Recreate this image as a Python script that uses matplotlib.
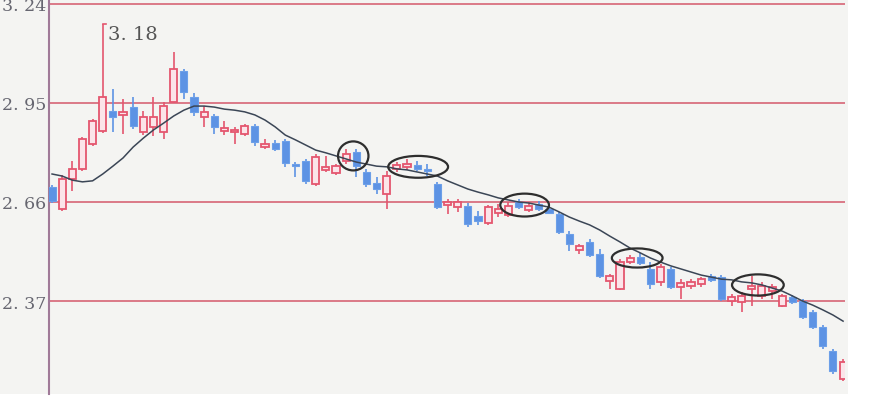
import matplotlib
matplotlib.use("Agg")
import matplotlib.pyplot as plt
from matplotlib.patches import Ellipse, Rectangle

# daily candles (price units)
opens = [2.704, 2.640, 2.727, 2.757, 2.830, 2.868, 2.927, 2.915, 2.938, 2.865,
         2.880, 2.865, 2.953, 3.044, 2.968, 2.909, 2.912, 2.868, 2.865, 2.859,
         2.883, 2.821, 2.833, 2.839, 2.771, 2.780, 2.713, 2.754, 2.745, 2.780,
         2.806, 2.748, 2.716, 2.683, 2.757, 2.763, 2.768, 2.757, 2.713, 2.651,
         2.645, 2.648, 2.619, 2.599, 2.628, 2.622, 2.660, 2.637, 2.654, 2.640,
         2.625, 2.566, 2.519, 2.543, 2.508, 2.429, 2.405, 2.484, 2.499, 2.464,
         2.426, 2.464, 2.411, 2.414, 2.420, 2.443, 2.440, 2.370, 2.367, 2.405,
         2.385, 2.399, 2.355, 2.382, 2.370, 2.338, 2.294, 2.224, 2.142]
highs = [2.710, 2.739, 2.780, 2.850, 2.903, 3.180, 2.991, 2.962, 2.968, 2.927,
         2.968, 2.953, 3.099, 3.050, 2.979, 2.941, 2.918, 2.897, 2.880, 2.888,
         2.888, 2.845, 2.842, 2.845, 2.777, 2.786, 2.801, 2.795, 2.771, 2.815,
         2.815, 2.757, 2.733, 2.751, 2.777, 2.786, 2.780, 2.771, 2.719, 2.669,
         2.669, 2.657, 2.634, 2.651, 2.654, 2.660, 2.669, 2.660, 2.663, 2.654,
         2.631, 2.575, 2.537, 2.552, 2.522, 2.449, 2.493, 2.505, 2.511, 2.484,
         2.478, 2.470, 2.434, 2.434, 2.440, 2.449, 2.446, 2.391, 2.396, 2.443,
         2.426, 2.420, 2.391, 2.388, 2.376, 2.344, 2.300, 2.229, 2.200]
lows = [2.657, 2.634, 2.692, 2.751, 2.824, 2.862, 2.865, 2.859, 2.874, 2.856,
        2.853, 2.845, 2.950, 2.962, 2.912, 2.880, 2.859, 2.856, 2.830, 2.853,
        2.824, 2.815, 2.809, 2.763, 2.733, 2.713, 2.707, 2.748, 2.739, 2.771,
        2.733, 2.704, 2.683, 2.640, 2.748, 2.754, 2.751, 2.736, 2.640, 2.625,
        2.631, 2.587, 2.593, 2.593, 2.616, 2.616, 2.640, 2.631, 2.634, 2.625,
        2.566, 2.516, 2.508, 2.499, 2.437, 2.405, 2.402, 2.478, 2.475, 2.405,
        2.414, 2.405, 2.376, 2.405, 2.411, 2.426, 2.370, 2.355, 2.338, 2.355,
        2.376, 2.376, 2.352, 2.361, 2.317, 2.288, 2.229, 2.156, 2.136]
closes = [2.663, 2.727, 2.757, 2.845, 2.897, 2.968, 2.909, 2.924, 2.883, 2.909,
          2.909, 2.941, 3.050, 2.982, 2.924, 2.924, 2.880, 2.877, 2.871, 2.883,
          2.836, 2.830, 2.815, 2.774, 2.765, 2.722, 2.792, 2.763, 2.765, 2.801,
          2.765, 2.713, 2.698, 2.736, 2.768, 2.771, 2.757, 2.751, 2.645, 2.660,
          2.660, 2.596, 2.604, 2.645, 2.640, 2.648, 2.645, 2.648, 2.640, 2.628,
          2.572, 2.537, 2.531, 2.505, 2.443, 2.443, 2.484, 2.496, 2.481, 2.420,
          2.470, 2.411, 2.423, 2.426, 2.434, 2.432, 2.376, 2.382, 2.385, 2.414,
          2.414, 2.411, 2.385, 2.367, 2.323, 2.294, 2.238, 2.165, 2.191]

# moving average line as drawn on the scan
ma = [2.742, 2.736, 2.724, 2.719, 2.722, 2.742, 2.765, 2.789, 2.821, 2.847,
      2.871, 2.891, 2.912, 2.929, 2.941, 2.941, 2.938, 2.932, 2.929, 2.924,
      2.915, 2.900, 2.880, 2.856, 2.842, 2.827, 2.812, 2.804, 2.795, 2.786,
      2.777, 2.771, 2.765, 2.763, 2.757, 2.754, 2.748, 2.742, 2.736, 2.722,
      2.710, 2.698, 2.689, 2.681, 2.672, 2.666, 2.660, 2.657, 2.651, 2.645,
      2.631, 2.616, 2.604, 2.593, 2.578, 2.560, 2.543, 2.525, 2.511, 2.496,
      2.484, 2.473, 2.464, 2.455, 2.446, 2.440, 2.434, 2.432, 2.426, 2.423,
      2.417, 2.408, 2.399, 2.385, 2.370, 2.358, 2.344, 2.329, 2.311]

price_ticks = [2.37, 2.66, 2.95, 3.24]
price_labels = ["2. 37", "2. 66", "2. 95", "3. 24"]

# hand-drawn circles: (candle index, price, width in candles, height in price)
circles = [(29.7, 2.795, 3.0, 0.085),
           (36.1, 2.763, 5.9, 0.064),
           (46.6, 2.651, 4.8, 0.067),
           (57.7, 2.496, 5.0, 0.056),
           (69.6, 2.417, 5.1, 0.062)]

peak_label = "3. 18"

paper = "#f4f4f2"
red = "#e4566f"
pink = "#fbe4e9"
blue = "#5d93e4"
grid_red = "#d9707f"

fig = plt.figure(figsize=(8.7, 4.06), dpi=100, facecolor=paper)
ax = fig.add_axes([49 / 870, 11 / 406, 796 / 870, 395 / 406])
ax.set_facecolor(paper)

# white border strips of the scan
fig.patches.append(Rectangle((848 / 870, 0), 1, 1, transform=fig.transFigure,
                             facecolor="white", edgecolor="none", zorder=-1))
fig.patches.append(Rectangle((0, 0), 1, 11 / 406, transform=fig.transFigure,
                             facecolor="white", edgecolor="none", zorder=-1))

for t in price_ticks:
    ax.axhline(t, color=grid_red, lw=1.3, zorder=1)

xs = list(range(len(opens)))
for i in xs:
    o, h, l, c = opens[i], highs[i], lows[i], closes[i]
    up = c >= o
    col = red if up else blue
    ax.vlines(i, l, h, color=col, lw=1.2, zorder=3)
    bottom = min(o, c)
    height = max(abs(c - o), 0.004)
    if up:
        ax.bar(i, height, bottom=bottom, width=0.7, facecolor=pink,
               edgecolor=red, lw=1.3, zorder=4)
    else:
        ax.bar(i, height, bottom=bottom, width=0.7, facecolor=blue,
               edgecolor="#6c9fe8", lw=0.8, zorder=4)

ax.plot(xs, ma, color="#3b4656", lw=1.1, zorder=5)

for cx, cy, w, hgt in circles:
    ax.add_patch(Ellipse((cx, cy), w, hgt, fill=False, edgecolor="#2e2e2e",
                         lw=1.6, zorder=6))

# peak marker with the small hook and label
peak_i = 5
ax.plot([peak_i, peak_i + 0.35], [highs[peak_i], highs[peak_i]], color=red,
        lw=1.2, zorder=3)
ax.text(peak_i + 0.5, highs[peak_i] - 0.002, peak_label, fontsize=14,
        family="DejaVu Serif", color="#555555", va="top", ha="left")

ax.set_xlim(-0.3, 78.19)
ax.set_ylim(2.0976, 3.2546)
ax.set_xticks([])
ax.set_yticks(price_ticks)
ax.set_yticklabels(price_labels, family="DejaVu Serif", fontsize=12.5,
                   color="#666670")
ax.tick_params(axis="y", length=0, pad=2)

for side in ["top", "right", "bottom"]:
    ax.spines[side].set_visible(False)
ax.spines["left"].set_color("#a07a98")
ax.spines["left"].set_linewidth(1.5)

fig.savefig("out.png", dpi=100, facecolor=fig.get_facecolor())
